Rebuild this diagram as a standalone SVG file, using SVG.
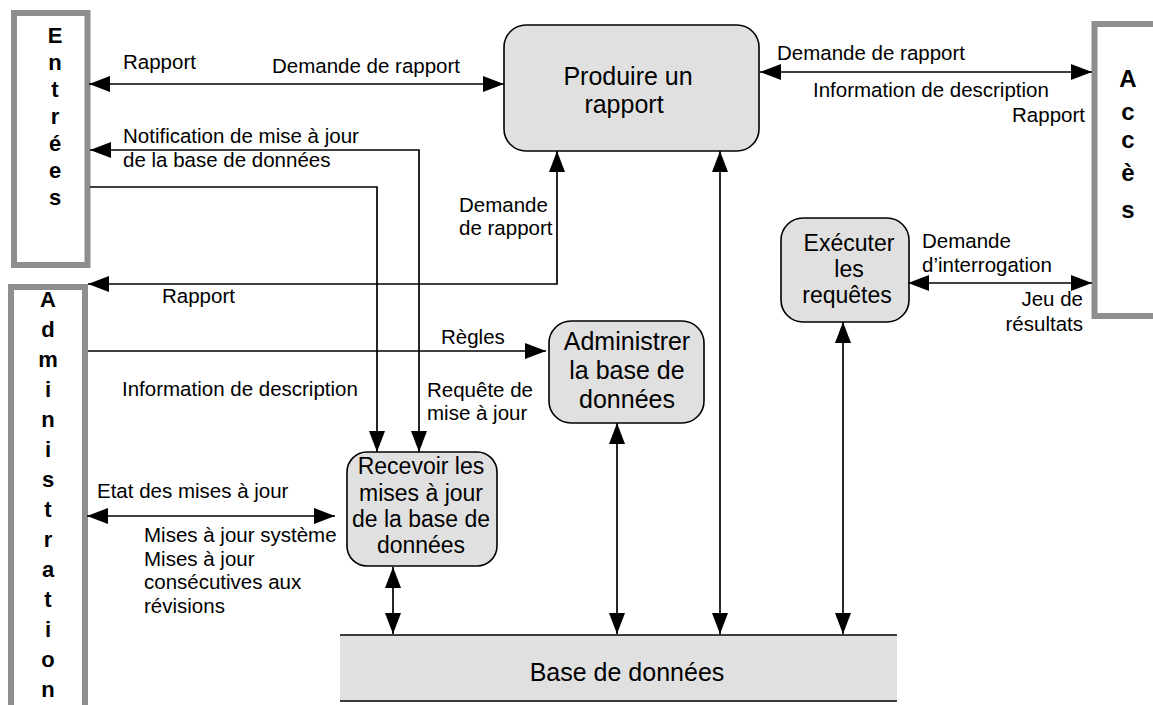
<svg xmlns="http://www.w3.org/2000/svg" width="1153" height="705" viewBox="0 0 1153 705">
<defs>
<marker id="arr" viewBox="0 0 21 16" refX="21" refY="8" markerWidth="21" markerHeight="16" markerUnits="userSpaceOnUse" orient="auto-start-reverse">
<path d="M0,0 L21,8 L0,16 z" fill="#000"/>
</marker>
<style>
.ext{fill:#fff;stroke:#8e8e8e;stroke-width:6}
.proc{fill:#e0e0e0;stroke:#000;stroke-width:1.6}
.vl{font-family:"Liberation Sans",Arial,sans-serif;font-weight:bold;font-size:22px;text-anchor:middle;fill:#000}
.va{font-size:24px}
.nt{font-family:"Liberation Sans",Arial,sans-serif;font-size:25px;text-anchor:middle;fill:#000}
.ns{font-family:"Liberation Sans",Arial,sans-serif;font-size:23px;text-anchor:middle;fill:#000}
.lb{font-family:"Liberation Sans",Arial,sans-serif;font-size:20.5px;fill:#000}
.end{text-anchor:end}
.c{fill:none;stroke:#000;stroke-width:1.7}
.both{marker-start:url(#arr);marker-end:url(#arr)}
.one{marker-end:url(#arr)}
</style>
</defs>
<rect width="1153" height="705" fill="#fff"/>

<g id="entrees">
<rect class="ext" x="14" y="13" width="73.5" height="252"/>
<text class="vl" x="55" y="43">E</text>
<text class="vl" x="55" y="70">n</text>
<text class="vl" x="55" y="97">t</text>
<text class="vl" x="55" y="124">r</text>
<text class="vl" x="55" y="151">é</text>
<text class="vl" x="55" y="178">e</text>
<text class="vl" x="55" y="205">s</text>
</g>

<g id="administration">
<rect class="ext" x="11" y="287" width="74" height="430"/>
<text class="vl" x="48" y="307">A</text>
<text class="vl" x="48" y="337">d</text>
<text class="vl" x="48" y="367">m</text>
<text class="vl" x="48" y="397">i</text>
<text class="vl" x="48" y="427">n</text>
<text class="vl" x="48" y="457">i</text>
<text class="vl" x="48" y="487">s</text>
<text class="vl" x="48" y="517">t</text>
<text class="vl" x="48" y="547">r</text>
<text class="vl" x="48" y="577">a</text>
<text class="vl" x="48" y="607">t</text>
<text class="vl" x="48" y="637">i</text>
<text class="vl" x="48" y="667">o</text>
<text class="vl" x="48" y="697">n</text>
</g>

<g id="acces">
<rect class="ext" x="1094.5" y="24" width="80" height="292"/>
<text class="vl va" x="1128" y="87">A</text>
<text class="vl va" x="1128" y="120">c</text>
<text class="vl va" x="1128" y="148">c</text>
<text class="vl va" x="1128" y="181">è</text>
<text class="vl va" x="1128" y="218">s</text>
</g>

<g id="produire">
<rect class="proc" x="504" y="25" width="255" height="126" rx="22" ry="22"/>
<text class="nt" x="628" y="85">Produire un</text>
<text class="nt" x="624" y="113">rapport</text>
</g>

<g id="administrer">
<rect class="proc" x="549" y="321" width="155" height="102" rx="22" ry="22"/>
<text class="nt" x="627" y="350">Administrer</text>
<text class="nt" x="627" y="379">la base de</text>
<text class="nt" x="627" y="408">données</text>
</g>

<g id="recevoir">
<rect class="proc" x="347" y="452" width="150" height="114" rx="20" ry="20"/>
<text class="ns" x="421" y="474">Recevoir les</text>
<text class="ns" x="421" y="501">mises à jour</text>
<text class="ns" x="421" y="527">de la base de</text>
<text class="ns" x="421" y="553">données</text>
</g>

<g id="executer">
<rect class="proc" x="781" y="218" width="128" height="104" rx="22" ry="22"/>
<text class="ns" x="849" y="251">Exécuter</text>
<text class="ns" x="849" y="277">les</text>
<text class="ns" x="847" y="303">requêtes</text>
</g>

<g id="base">
<rect x="340" y="635" width="557" height="66" fill="#e0e0e0"/>
<line class="c" x1="340" y1="635" x2="897" y2="635"/>
<line class="c" x1="340" y1="701" x2="897" y2="701"/>
<text class="nt" x="627" y="681">Base de données</text>
</g>

<g id="connectors">
<path class="c both" d="M89,84 H504"/>
<path class="c both" d="M90,150 H419 V452"/>
<path class="c one" d="M90,187 H377 V452"/>
<path class="c both" d="M557,151 V284 H88"/>
<path class="c both" d="M720,151 V634"/>
<path class="c one" d="M88,351 H546"/>
<path class="c both" d="M87,516 H335"/>
<path class="c both" d="M393,567 V634"/>
<path class="c both" d="M617,423 V634"/>
<path class="c both" d="M843,322 V634"/>
<path class="c both" d="M760,72 H1092"/>
<path class="c both" d="M908,283 H1092"/>
</g>

<g id="labels">
<text class="lb" x="123" y="69">Rapport</text>
<text class="lb" x="272" y="73">Demande de rapport</text>
<text class="lb" x="123" y="143">Notification de mise à jour</text>
<text class="lb" x="123" y="167">de la base de données</text>
<text class="lb" x="459" y="212">Demande</text>
<text class="lb" x="459" y="235">de rapport</text>
<text class="lb" x="162" y="303">Rapport</text>
<text class="lb" x="441" y="344">Règles</text>
<text class="lb" x="122" y="396">Information de description</text>
<text class="lb" x="427" y="397">Requête de</text>
<text class="lb" x="427" y="420">mise à jour</text>
<text class="lb" x="97" y="498">Etat des mises à jour</text>
<text class="lb" x="144" y="542">Mises à jour système</text>
<text class="lb" x="144" y="566">Mises à jour</text>
<text class="lb" x="144" y="589">consécutives aux</text>
<text class="lb" x="144" y="613">révisions</text>
<text class="lb" x="777" y="60">Demande de rapport</text>
<text class="lb" x="813" y="97">Information de description</text>
<text class="lb end" x="1085" y="122">Rapport</text>
<text class="lb" x="922" y="248">Demande</text>
<text class="lb" x="922" y="272">d’interrogation</text>
<text class="lb end" x="1083" y="306">Jeu de</text>
<text class="lb end" x="1083" y="331">résultats</text>
</g>
</svg>
